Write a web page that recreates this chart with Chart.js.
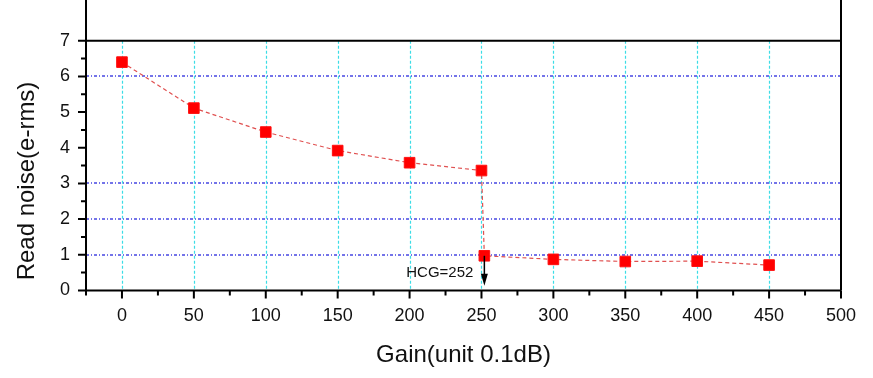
<!DOCTYPE html>
<html><head><meta charset="utf-8">
<script src="https://cdn.jsdelivr.net/npm/chart.js@4"></script>
<style>html,body{margin:0;padding:0;background:#fff}#w{width:873px;height:378px}</style>
</head><body><div id="w"><canvas id="c"></canvas></div>
<script>
const gainValues = [0, 50, 100, 150, 200, 250, 252, 300, 350, 400, 450];
const readNoise = [6.40, 5.11, 4.44, 3.92, 3.58, 3.36, 0.97, 0.87, 0.81, 0.82, 0.71];
const xTickLabels = [0, 50, 100, 150, 200, 250, 300, 350, 400, 450, 500];
const yTickLabels = [0, 1, 2, 3, 4, 5, 6, 7];
const hGridValues = [1, 2, 3, 6];
const vGridValues = [0, 50, 100, 150, 200, 250, 300, 350, 400, 450];
const hcgGain = 252;
const hcgLabel = 'HCG=252';
const xTitle = 'Gain(unit 0.1dB)';
const yTitle = 'Read noise(e-rms)';

const FONT = "'Liberation Sans', Arial, sans-serif";

const deco = {
  id: 'deco',
  beforeDatasetsDraw(chart) {
    const {ctx, chartArea: a, scales: {x, y}} = chart;
    ctx.save();
    ctx.strokeStyle = '#3cdde6'; ctx.lineWidth = 1.2; ctx.setLineDash([3, 2]);
    vGridValues.forEach(v => {
      const px = Math.round(x.getPixelForValue(v)) + 0.5;
      ctx.beginPath(); ctx.moveTo(px, y.getPixelForValue(7)); ctx.lineTo(px, a.bottom); ctx.stroke();
    });
    ctx.strokeStyle = '#4646e2'; ctx.lineWidth = 1.5; ctx.setLineDash([3, 2, 1, 2]);
    hGridValues.forEach(v => {
      const py = Math.round(y.getPixelForValue(v));
      ctx.beginPath(); ctx.moveTo(a.left, py); ctx.lineTo(a.right, py); ctx.stroke();
    });
    ctx.restore();
  },
  afterDatasetsDraw(chart) {
    const {ctx, chartArea: a, scales: {x, y}} = chart;
    ctx.save();
    ctx.setLineDash([]);
    ctx.strokeStyle = '#000'; ctx.lineWidth = 2;
    ctx.beginPath();
    ctx.moveTo(a.left, 0); ctx.lineTo(a.left, a.bottom); ctx.lineTo(a.right, a.bottom);
    ctx.moveTo(a.right, 0); ctx.lineTo(a.right, a.bottom);
    const y7 = y.getPixelForValue(7);
    ctx.moveTo(a.left - 8, y7); ctx.lineTo(a.right, y7);
    ctx.stroke();
    ctx.beginPath();
    for (let v = 0; v <= 6.5; v += 0.5) {
      const py = y.getPixelForValue(v);
      const len = Number.isInteger(v) ? 8 : 5;
      ctx.moveTo(a.left - len, py); ctx.lineTo(a.left, py);
    }
    for (let v = -25; v <= 500; v += 25) {
      const px = x.getPixelForValue(v);
      const len = v % 50 === 0 ? 8 : 5;
      ctx.moveTo(px, a.bottom); ctx.lineTo(px, a.bottom + len);
    }
    ctx.stroke();
    const ax = x.getPixelForValue(hcgGain);
    const ay1 = y.getPixelForValue(0.97), ay2 = y.getPixelForValue(0.13);
    ctx.lineWidth = 1.5;
    ctx.beginPath(); ctx.moveTo(ax, ay1); ctx.lineTo(ax, ay2 - 8); ctx.stroke();
    ctx.fillStyle = '#000';
    ctx.beginPath(); ctx.moveTo(ax - 3.5, ay2 - 12); ctx.lineTo(ax + 3.5, ay2 - 12); ctx.lineTo(ax, ay2); ctx.closePath(); ctx.fill();
    ctx.font = '15px ' + FONT; ctx.textAlign = 'right'; ctx.textBaseline = 'middle'; ctx.fillStyle = '#111';
    ctx.fillText(hcgLabel, ax - 11, y.getPixelForValue(0.5));
    ctx.font = '24px ' + FONT; ctx.textAlign = 'center'; ctx.fillStyle = '#111';
    ctx.fillText(xTitle, (a.left + a.right) / 2, 355);
    ctx.translate(27, 181); ctx.rotate(-Math.PI / 2);
    ctx.fillText(yTitle, 0, 0);
    ctx.restore();
  }
};

new Chart(document.getElementById('c'), {
  type: 'line',
  data: {
    datasets: [{
      data: gainValues.map((g, i) => ({x: g, y: readNoise[i]})),
      borderColor: '#e05050', borderWidth: 1.2, borderDash: [4, 3],
      pointStyle: 'rect', pointRadius: 7.5, pointBackgroundColor: '#ff0000', pointBorderColor: '#ff1010', pointBorderWidth: 1,
      tension: 0, fill: false
    }]
  },
  options: {
    responsive: true, maintainAspectRatio: false, animation: false,
    layout: {padding: {left: 44, right: 32, top: 0, bottom: 36}},
    plugins: {legend: {display: false}, tooltip: {enabled: false}},
    scales: {
      x: {
        type: 'linear', min: -25, max: 500,
        afterBuildTicks: s => { s.ticks = xTickLabels.map(v => ({value: v})); },
        grid: {display: false, drawTicks: false}, border: {display: false},
        ticks: {padding: 15, color: '#111', font: {family: FONT, size: 18}, maxRotation: 0}
      },
      y: {
        type: 'linear', min: 0, max: 7.39,
        afterBuildTicks: s => { s.ticks = yTickLabels.map(v => ({value: v})); },
        grid: {display: false, drawTicks: false}, border: {display: false},
        ticks: {padding: 16, color: '#111', font: {family: FONT, size: 18}}
      }
    }
  },
  plugins: [deco]
});
</script></body></html>
